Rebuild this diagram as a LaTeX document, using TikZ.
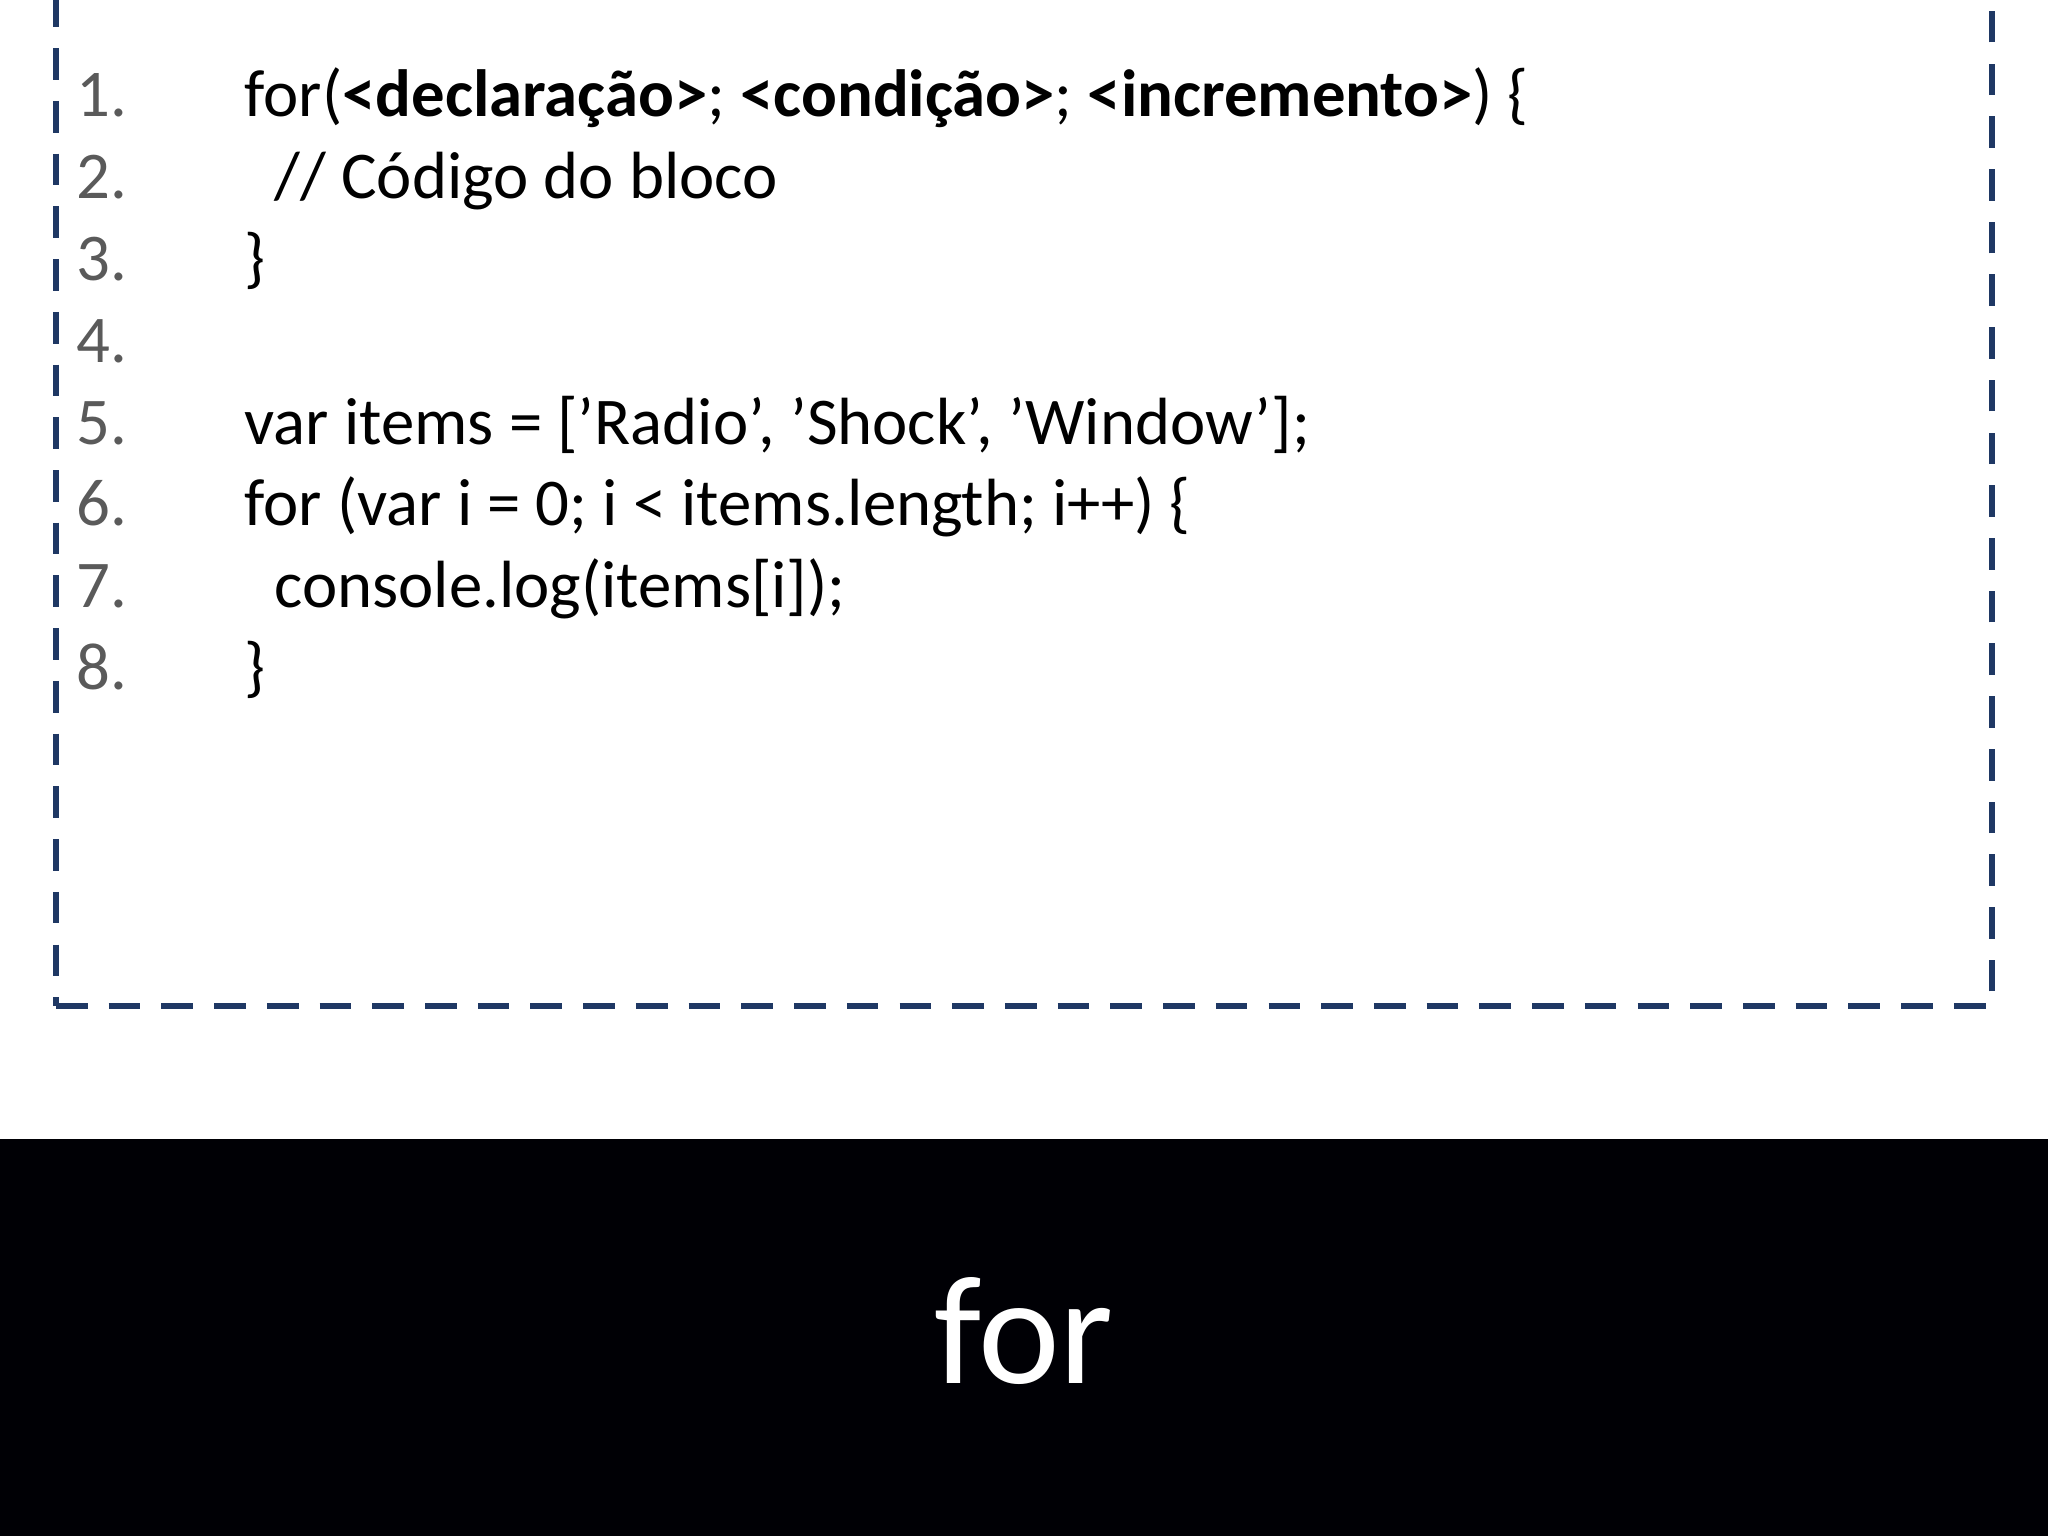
\documentclass[tikz,border=0pt]{standalone}
\usepackage{fontspec}
\setmainfont{Carlito}
\usepackage{xcolor}
\definecolor{framecol}{RGB}{31,56,100}
\definecolor{numcol}{RGB}{90,90,90}
\begin{document}
\begin{tikzpicture}[
    num/.style={anchor=base west, inner sep=0pt, font=\fontsize{19}{22}\selectfont, text=numcol},
    code/.style={anchor=base west, inner sep=0pt, font=\fontsize{19}{22}\selectfont},
]
    \useasboundingbox (0,0) rectangle (20.48,15.36);
    % Code frame
    \node[draw=framecol, line width=1.6pt, dash pattern=on 9pt off 6pt, minimum width=19.36cm, minimum height=10.47cm, inner sep=0pt] (frame) at (10.24,10.535) {};
    % Line numbers
    \foreach \i in {1,...,8}
        \node[num] (n\i) at (0.76,{14.19-(\i-1)*0.818}) {\i.};
    % Code lines
    \node[code] (c1) at (2.44,14.19) {for(\textbf{<declaração>}; \textbf{<condição>}; \textbf{<incremento>}) \{};
    \node[code] (c2) at (2.74,13.372) {// Código do bloco};
    \node[code] (c3) at (2.44,12.554) {\}};
    \node[code] (c5) at (2.44,10.918) {var items = ['Radio', 'Shock', 'Window'];};
    \node[code] (c6) at (2.44,10.10) {for (var i = 0; i < items.length; i++) \{};
    \node[code] (c7) at (2.74,9.282) {console.log(items[i]);};
    \node[code] (c8) at (2.44,8.464) {\}};
    % Title band
    \fill[black!98!blue] (0,0) rectangle (20.48,3.97);
    \node[text=white, font=\fontsize{44}{50}\selectfont] (title) at (10.24,2.05) {for};
\end{tikzpicture}
\end{document}
